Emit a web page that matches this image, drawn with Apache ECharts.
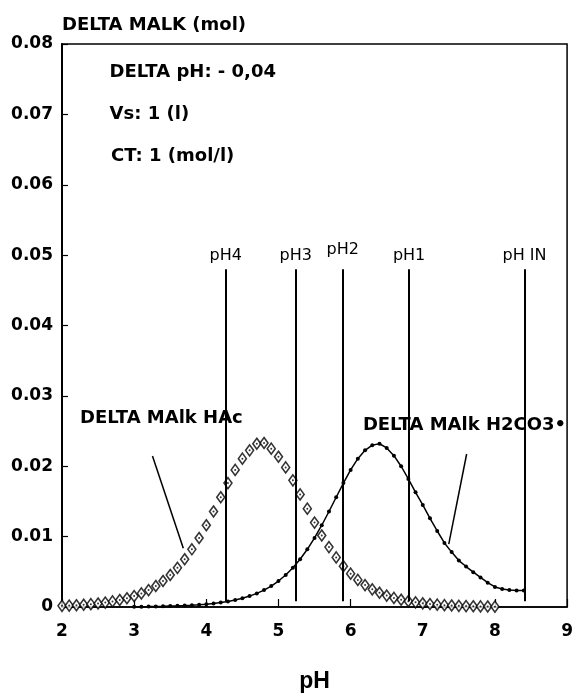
<!DOCTYPE html>
<html><head><meta charset="utf-8">
<script src="https://cdn.jsdelivr.net/npm/echarts@6/dist/echarts.min.js"></script>
<style>html,body{margin:0;padding:0;background:#fff}#c{width:576px;height:698px}</style>
</head><body><div id="c"></div>
<script>
const phHAc = [2.0,2.1,2.2,2.3,2.4,2.5,2.6,2.7,2.8,2.9,3.0,3.1,3.2,3.3,3.4,3.5,3.6,3.7,3.8,3.9,4.0,4.1,4.2,4.3,4.4,4.5,4.6,4.7,4.8,4.9,5.0,5.1,5.2,5.3,5.4,5.5,5.6,5.7,5.8,5.9,6.0,6.1,6.2,6.3,6.4,6.5,6.6,6.7,6.8,6.9,7.0,7.1,7.2,7.3,7.4,7.5,7.6,7.7,7.8,7.9,8.0];
const malkHAc = [0.00016,0.00020,0.00025,0.00032,0.00040,0.00050,0.00063,0.00079,0.00099,0.00124,0.00155,0.00193,0.00240,0.00298,0.00369,0.00455,0.00557,0.00679,0.00820,0.00981,0.01162,0.01357,0.01559,0.01761,0.01948,0.02108,0.02226,0.02320,0.02330,0.02250,0.02135,0.01983,0.01800,0.01600,0.01397,0.01200,0.01016,0.00851,0.00705,0.00580,0.00474,0.00385,0.00311,0.00251,0.00202,0.00162,0.00129,0.00103,0.00083,0.00066,0.00052,0.00042,0.00033,0.00026,0.00021,0.00017,0.00013,0.00011,0.00008,0.00007,0.00005];
const phH2CO3 = [3.0,3.1,3.2,3.3,3.4,3.5,3.6,3.7,3.8,3.9,4.0,4.1,4.2,4.3,4.4,4.5,4.6,4.7,4.8,4.9,5.0,5.1,5.2,5.3,5.4,5.5,5.6,5.7,5.8,5.9,6.0,6.1,6.2,6.3,6.4,6.5,6.6,6.7,6.8,6.9,7.0,7.1,7.2,7.3,7.4,7.5,7.6,7.7,7.8,7.9,8.0,8.1,8.2,8.3,8.4];
const malkH2CO3 = [0.00004,0.00005,0.00006,0.00008,0.00010,0.00013,0.00016,0.00020,0.00025,0.00032,0.00040,0.00050,0.00063,0.00079,0.00099,0.00124,0.00155,0.00193,0.00240,0.00298,0.00369,0.00455,0.00557,0.00679,0.00820,0.00981,0.01162,0.01357,0.01559,0.01761,0.01948,0.02108,0.02226,0.02300,0.02320,0.02260,0.02150,0.02000,0.01820,0.01630,0.01450,0.01260,0.01080,0.00910,0.00780,0.00660,0.00575,0.00495,0.00420,0.00345,0.00285,0.00255,0.00240,0.00235,0.00235];
const phMarkValues = [4.27, 5.24, 5.89, 6.81, 8.41];
const phMarkLabels = ['pH4', 'pH3', 'pH2', 'pH1', 'pH IN'];
const infoTexts = ['DELTA pH: - 0,04', 'Vs: 1 (l)', 'CT: 1 (mol/l)'];
const curveLabels = ['DELTA MAlk HAc', 'DELTA MAlk H2CO3\u2022'];

const FONT = 'DejaVu Sans';
const zip = (a, b) => a.map((v, i) => [v, b[i]]);
const chart = echarts.init(document.getElementById('c'), null, {renderer: 'canvas'});

const markTop = 0.048, markBottom = 0.0008;
const option = {
  animation: false,
  backgroundColor: '#fff',
  grid: {left: 62, right: 4, top: 44, bottom: 78, show: true, borderColor: '#000', borderWidth: 1.5},
  xAxis: {
    type: 'value', min: 2, max: 9, interval: 1,
    name: 'pH', nameLocation: 'middle', nameGap: 63,
    nameTextStyle: {fontFamily: 'Liberation Sans', fontSize: 23, fontWeight: 'bold', color: '#000'},
    axisLine: {lineStyle: {color: '#000', width: 1.5}},
    axisTick: {inside: true, length: 8, lineStyle: {color: '#000', width: 1.2}},
    axisLabel: {margin: 16, fontFamily: FONT, fontWeight: 'bold', fontSize: 17, color: '#000'},
    splitLine: {show: false}
  },
  yAxis: {
    type: 'value', min: 0, max: 0.08, interval: 0.01,
    name: 'DELTA MALK (mol)', nameLocation: 'end', nameGap: 10,
    nameTextStyle: {align: 'left', fontFamily: FONT, fontWeight: 'bold', fontSize: 18, color: '#000'},
    axisLine: {show: true, lineStyle: {color: '#000', width: 2}},
    axisTick: {show: true, inside: true, length: 6, lineStyle: {color: '#000', width: 1.2}},
    axisLabel: {margin: 9, fontFamily: FONT, fontWeight: 'bold', fontSize: 17, color: '#000',
      formatter: v => (v === 0 ? '0' : v.toFixed(2))},
    splitLine: {show: false}
  },
  series: [
    {
      name: 'H2CO3', type: 'line', data: zip(phH2CO3, malkH2CO3), z: 2,
      showSymbol: true, symbol: 'circle', symbolSize: 4,
      itemStyle: {color: '#000'}, lineStyle: {color: '#000', width: 1.5},
      markLine: {
        silent: true, symbol: 'none', animation: false,
        lineStyle: {color: '#000', width: 2, type: 'solid'},
        label: {show: true, position: 'start', formatter: '{b}', fontFamily: FONT, fontSize: 16, color: '#000', distance: 5},
        data: phMarkValues.map((v, i) => [
          {coord: [v, markTop], name: phMarkLabels[i], label: {distance: phMarkLabels[i] === 'pH2' ? 11 : 5}},
          {coord: [v, markBottom]}
        ])
      }
    },
    {
      name: 'HAc', type: 'scatter', data: zip(phHAc, malkHAc), z: 3, clip: false,
      symbol: 'diamond', symbolSize: [8, 11],
      itemStyle: {color: '#fff', borderColor: '#000', borderWidth: 1.6}
    },
    {
      name: 'HAc dots', type: 'scatter', data: zip(phHAc, malkHAc), z: 4, clip: false,
      symbol: 'circle', symbolSize: 2, itemStyle: {color: '#000'},
      markLine: {
        silent: true, symbol: 'none', animation: false,
        lineStyle: {color: '#000', width: 1.5, type: 'solid'},
        label: {show: false},
        data: [
          [{coord: [3.254, 0.02146]}, {coord: [3.681, 0.00836]}],
          [{coord: [7.608, 0.02174]}, {coord: [7.360, 0.00892]}]
        ]
      }
    }
  ]
};
chart.setOption(option);

const textAt = (txt, x, y) => {
  const p = chart.convertToPixel({gridIndex: 0}, [x, y]);
  return {type: 'text', z: 10, style: {text: txt, x: p[0], y: p[1], font: 'bold 18px "DejaVu Sans"', fill: '#000',
    textAlign: 'left', textVerticalAlign: 'middle', verticalAlign: 'middle'}};
};
chart.setOption({graphic: [
  textAt(infoTexts[0], 2.66, 0.0760),
  textAt(infoTexts[1], 2.66, 0.0700),
  textAt(infoTexts[2], 2.68, 0.0640),
  textAt(curveLabels[0], 2.25, 0.0268),
  textAt(curveLabels[1], 6.17, 0.0258)
]});
</script>
</body></html>
